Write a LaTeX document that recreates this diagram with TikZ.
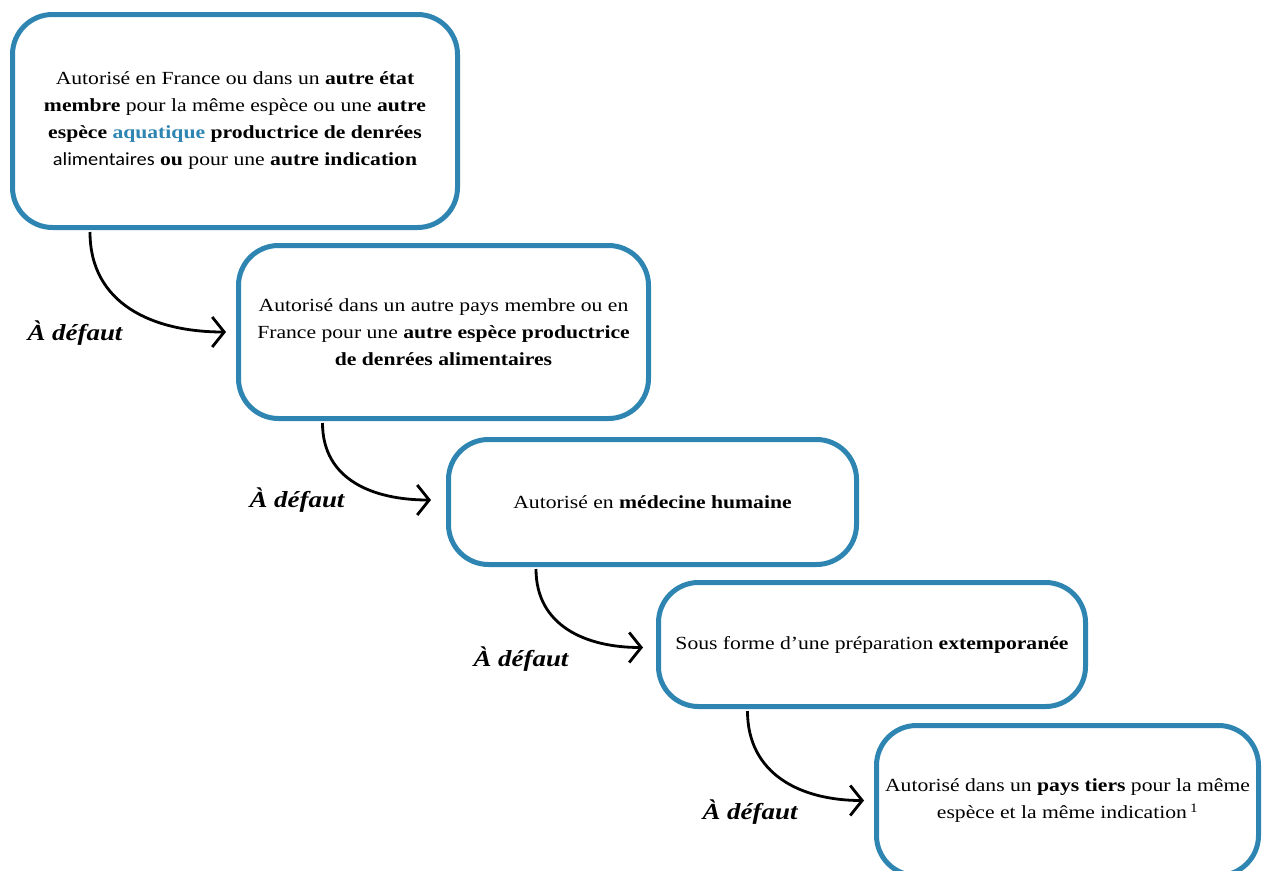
\documentclass[tikz,border=0pt]{standalone}
\usepackage{fontspec}
\setmainfont[FakeStretch=1.17]{Liberation Serif}
\newfontfamily\sansalt[FakeStretch=1.1]{Carlito}
\usetikzlibrary{arrows.meta,calc}
\definecolor{boxblue}{HTML}{2F85B2}
\begin{document}
\begin{tikzpicture}[x=1pt,y=-1pt,
  box/.style={draw=boxblue, line width=5pt, rounded corners=40pt, align=center,
    font=\fontsize{18.5}{27}\selectfont, inner sep=0pt},
  lbl/.style={font=\fontsize{23}{26}\selectfont\bfseries\itshape},
  conn/.style={line width=2.8pt, -{Straight Barb[length=12pt,width=30pt]}}]
\useasboundingbox (0,0) rectangle (1263,870);
\clip (0,0) rectangle (1263,870);

\node[box, minimum width=445pt, minimum height=213pt] (b1) at (235,121)
  {Autorisé en France ou dans un \textbf{autre état}\\
   \textbf{membre} pour la même espèce ou une \textbf{autre}\\
   \textbf{espèce} {\color{boxblue}\textbf{aquatique}} \textbf{productrice de denrées}\\
   {\sansalt alimentaires} \textbf{ou} pour une \textbf{autre indication}};
\node[box, minimum width=410pt, minimum height=173pt] (b2) at (443.5,332)
  {Autorisé dans un autre pays membre ou en\\
   France pour une \textbf{autre espèce productrice}\\
   \textbf{de denrées alimentaires}};
\node[box, minimum width=408pt, minimum height=125pt] (b3) at (652.5,502)
  {Autorisé en \textbf{médecine humaine}};
\node[box, minimum width=427pt, minimum height=124pt] (b4) at (872,644.5)
  {Sous forme d’une préparation \textbf{extemporanée}};
\node[box, minimum width=382pt, minimum height=150pt] (b5) at (1067.5,800.5)
  {Autorisé dans un \textbf{pays tiers} pour la même\\
   espèce et la même indication\,\textsuperscript{1}};

\node[lbl] (l1) at (75,333) {À défaut};
\node[lbl] (l2) at (297,500) {À défaut};
\node[lbl] (l3) at (521,659) {À défaut};
\node[lbl] (l4) at (750,812) {À défaut};

\draw[conn] ($(b1.south west)+(80,2)$) to[out=-90,in=180,looseness=1.1] ([xshift=-10pt]b2.west);
\draw[conn] ($(b2.south west)+(86.5,2)$) to[out=-90,in=180,looseness=1.1] ([shift={(-15,-2)}]b3.west);
\draw[conn] ($(b3.south west)+(90,2)$) to[out=-90,in=180,looseness=1.1] ([shift={(-13,3)}]b4.west);
\draw[conn] ($(b4.south west)+(91.5,2)$) to[out=-90,in=180,looseness=1.1] ([shift={(-10,0)}]b5.west);
\end{tikzpicture}
\end{document}
